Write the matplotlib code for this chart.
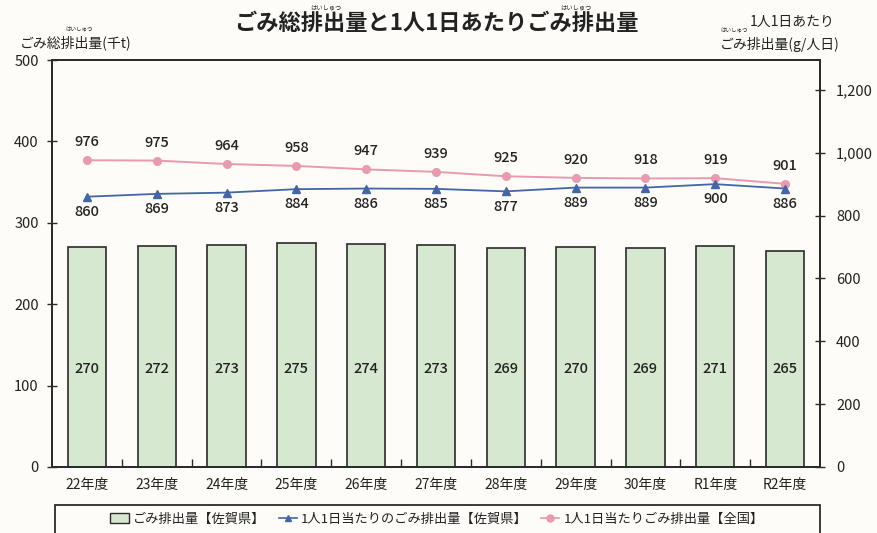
import matplotlib
matplotlib.use("Agg")
import matplotlib.pyplot as plt
from matplotlib.patches import Patch, Rectangle
from matplotlib.lines import Line2D

plt.rcParams['font.family'] = ['Noto Sans CJK JP', 'DejaVu Sans']

categories = ["22年度", "23年度", "24年度", "25年度", "26年度", "27年度",
              "28年度", "29年度", "30年度", "R1年度", "R2年度"]
total_waste = [270, 272, 273, 275, 274, 273, 269, 270, 269, 271, 265]
saga_per_capita = [860, 869, 873, 884, 886, 885, 877, 889, 889, 900, 886]
national_per_capita = [976, 975, 964, 958, 947, 939, 925, 920, 918, 919, 901]
left_ticks = [0, 100, 200, 300, 400, 500]
right_ticks = [0, 200, 400, 600, 800, 1000, 1200]
right_ticklabels = ["0", "200", "400", "600", "800", "1,000", "1,200"]

W, H = 877, 533
bg = '#fdfcf8'
bar_color = '#d6e8cf'
edge = '#2b2b2b'
pink = '#e89aae'
blue = '#4466a6'
txt = '#222222'

fig = plt.figure(figsize=(W / 100, H / 100), dpi=100, facecolor=bg)
ax = fig.add_axes([52 / W, 1 - 467 / H, (820 - 52) / W, (467 - 60) / H])
ax.set_facecolor(bg)
ax2 = ax.twinx()

x = list(range(len(categories)))
ax.bar(x, total_waste, width=0.55, color=bar_color, edgecolor=edge, linewidth=1.2, zorder=2)
for xi, v in zip(x, total_waste):
    ax.text(xi, 120, str(v), ha='center', va='center', fontsize=10.5, fontweight='medium',
            color=txt, zorder=3)

ax.set_xlim(-0.5, len(categories) - 0.5)
ax.set_ylim(0, 500)
ax.set_yticks(left_ticks)
ax.set_xticks(x)
ax.set_xticklabels(categories, fontsize=10, color=txt)
ax.set_xticks([i + 0.5 for i in x[:-1]], minor=True)
ax.tick_params(axis='x', which='major', length=0, pad=8)
ax.tick_params(axis='x', which='minor', direction='in', length=6, width=1, color=edge)
ax.tick_params(axis='y', direction='inout', length=7, width=1, color=edge,
               labelsize=10.5, labelcolor=txt, pad=6)

ax2.set_ylim(0, 1295)
ax2.set_yticks(right_ticks)
ax2.set_yticklabels(right_ticklabels)
ax2.tick_params(axis='y', direction='inout', length=7, width=1, color=edge,
                labelsize=10.5, labelcolor=txt, pad=8)

ax2.plot(x, national_per_capita, color=pink, lw=1.4, marker='o', ms=5.5,
         markerfacecolor=pink, markeredgecolor=pink, zorder=4)
ax2.plot(x, saga_per_capita, color=blue, lw=1.3, marker='^', ms=5.5,
         markerfacecolor=blue, markeredgecolor=blue, zorder=5)
for xi, v in zip(x, national_per_capita):
    ax2.annotate(str(v), (xi, v), xytext=(0, 13), textcoords='offset points',
                 ha='center', va='center', fontsize=10.5, fontweight='medium', color=txt)
for xi, v in zip(x, saga_per_capita):
    ax2.annotate(str(v), (xi, v), xytext=(0, -11), textcoords='offset points',
                 ha='center', va='center', fontsize=10.5, fontweight='medium', color=txt)

for a in (ax, ax2):
    for s in a.spines.values():
        s.set_color(edge)
        s.set_linewidth(1.3)
ax2.set_zorder(ax.get_zorder() + 1)
ax2.patch.set_visible(False)

# Title and axis labels
fig.text(436 / W, 1 - 24 / H, "ごみ総排出量と1人1日あたりごみ排出量", ha='center', va='center',
         fontsize=16, fontweight='bold', color=txt)
fig.text(326 / W, 1 - 7 / H, "はいしゅつ", ha='center', va='center', fontsize=4.5, color=txt)
fig.text(576 / W, 1 - 7 / H, "はいしゅつ", ha='center', va='center', fontsize=4.5, color=txt)

fig.text(20 / W, 1 - 43 / H, "ごみ総排出量(千t)", ha='left', va='center', fontsize=10, color=txt)
fig.text(79 / W, 1 - 30 / H, "はいしゅつ", ha='center', va='center', fontsize=4, color=txt)

fig.text(835 / W, 1 - 22 / H, "1人1日あたり", ha='right', va='center', fontsize=10, color=txt)
fig.text(840 / W, 1 - 44 / H, "ごみ排出量(g/人日)", ha='right', va='center', fontsize=10, color=txt)
fig.text(734 / W, 1 - 31 / H, "はいしゅつ", ha='center', va='center', fontsize=4, color=txt)

# Legend
fig.patches.append(Rectangle((55 / W, -0.05), (820 - 55) / W, 0.05 + (533 - 505) / H,
                             transform=fig.transFigure, fill=False, edgecolor=edge, lw=1.3))
handles = [
    Patch(facecolor=bar_color, edgecolor=edge, lw=1),
    Line2D([], [], color=blue, marker='^', ms=5, lw=1.2),
    Line2D([], [], color=pink, marker='o', ms=5, lw=1.2),
]
labels = ["ごみ排出量【佐賀県】", "1人1日当たりのごみ排出量【佐賀県】", "1人1日当たりごみ排出量【全国】"]
fig.legend(handles, labels, loc='center', bbox_to_anchor=(437 / W, 1 - 519 / H), ncol=3,
           frameon=False, fontsize=9.5, handlelength=1.4, handletextpad=0.3, columnspacing=1.0,
           labelcolor=txt)

fig.savefig("out.png", dpi=100, facecolor=bg)
